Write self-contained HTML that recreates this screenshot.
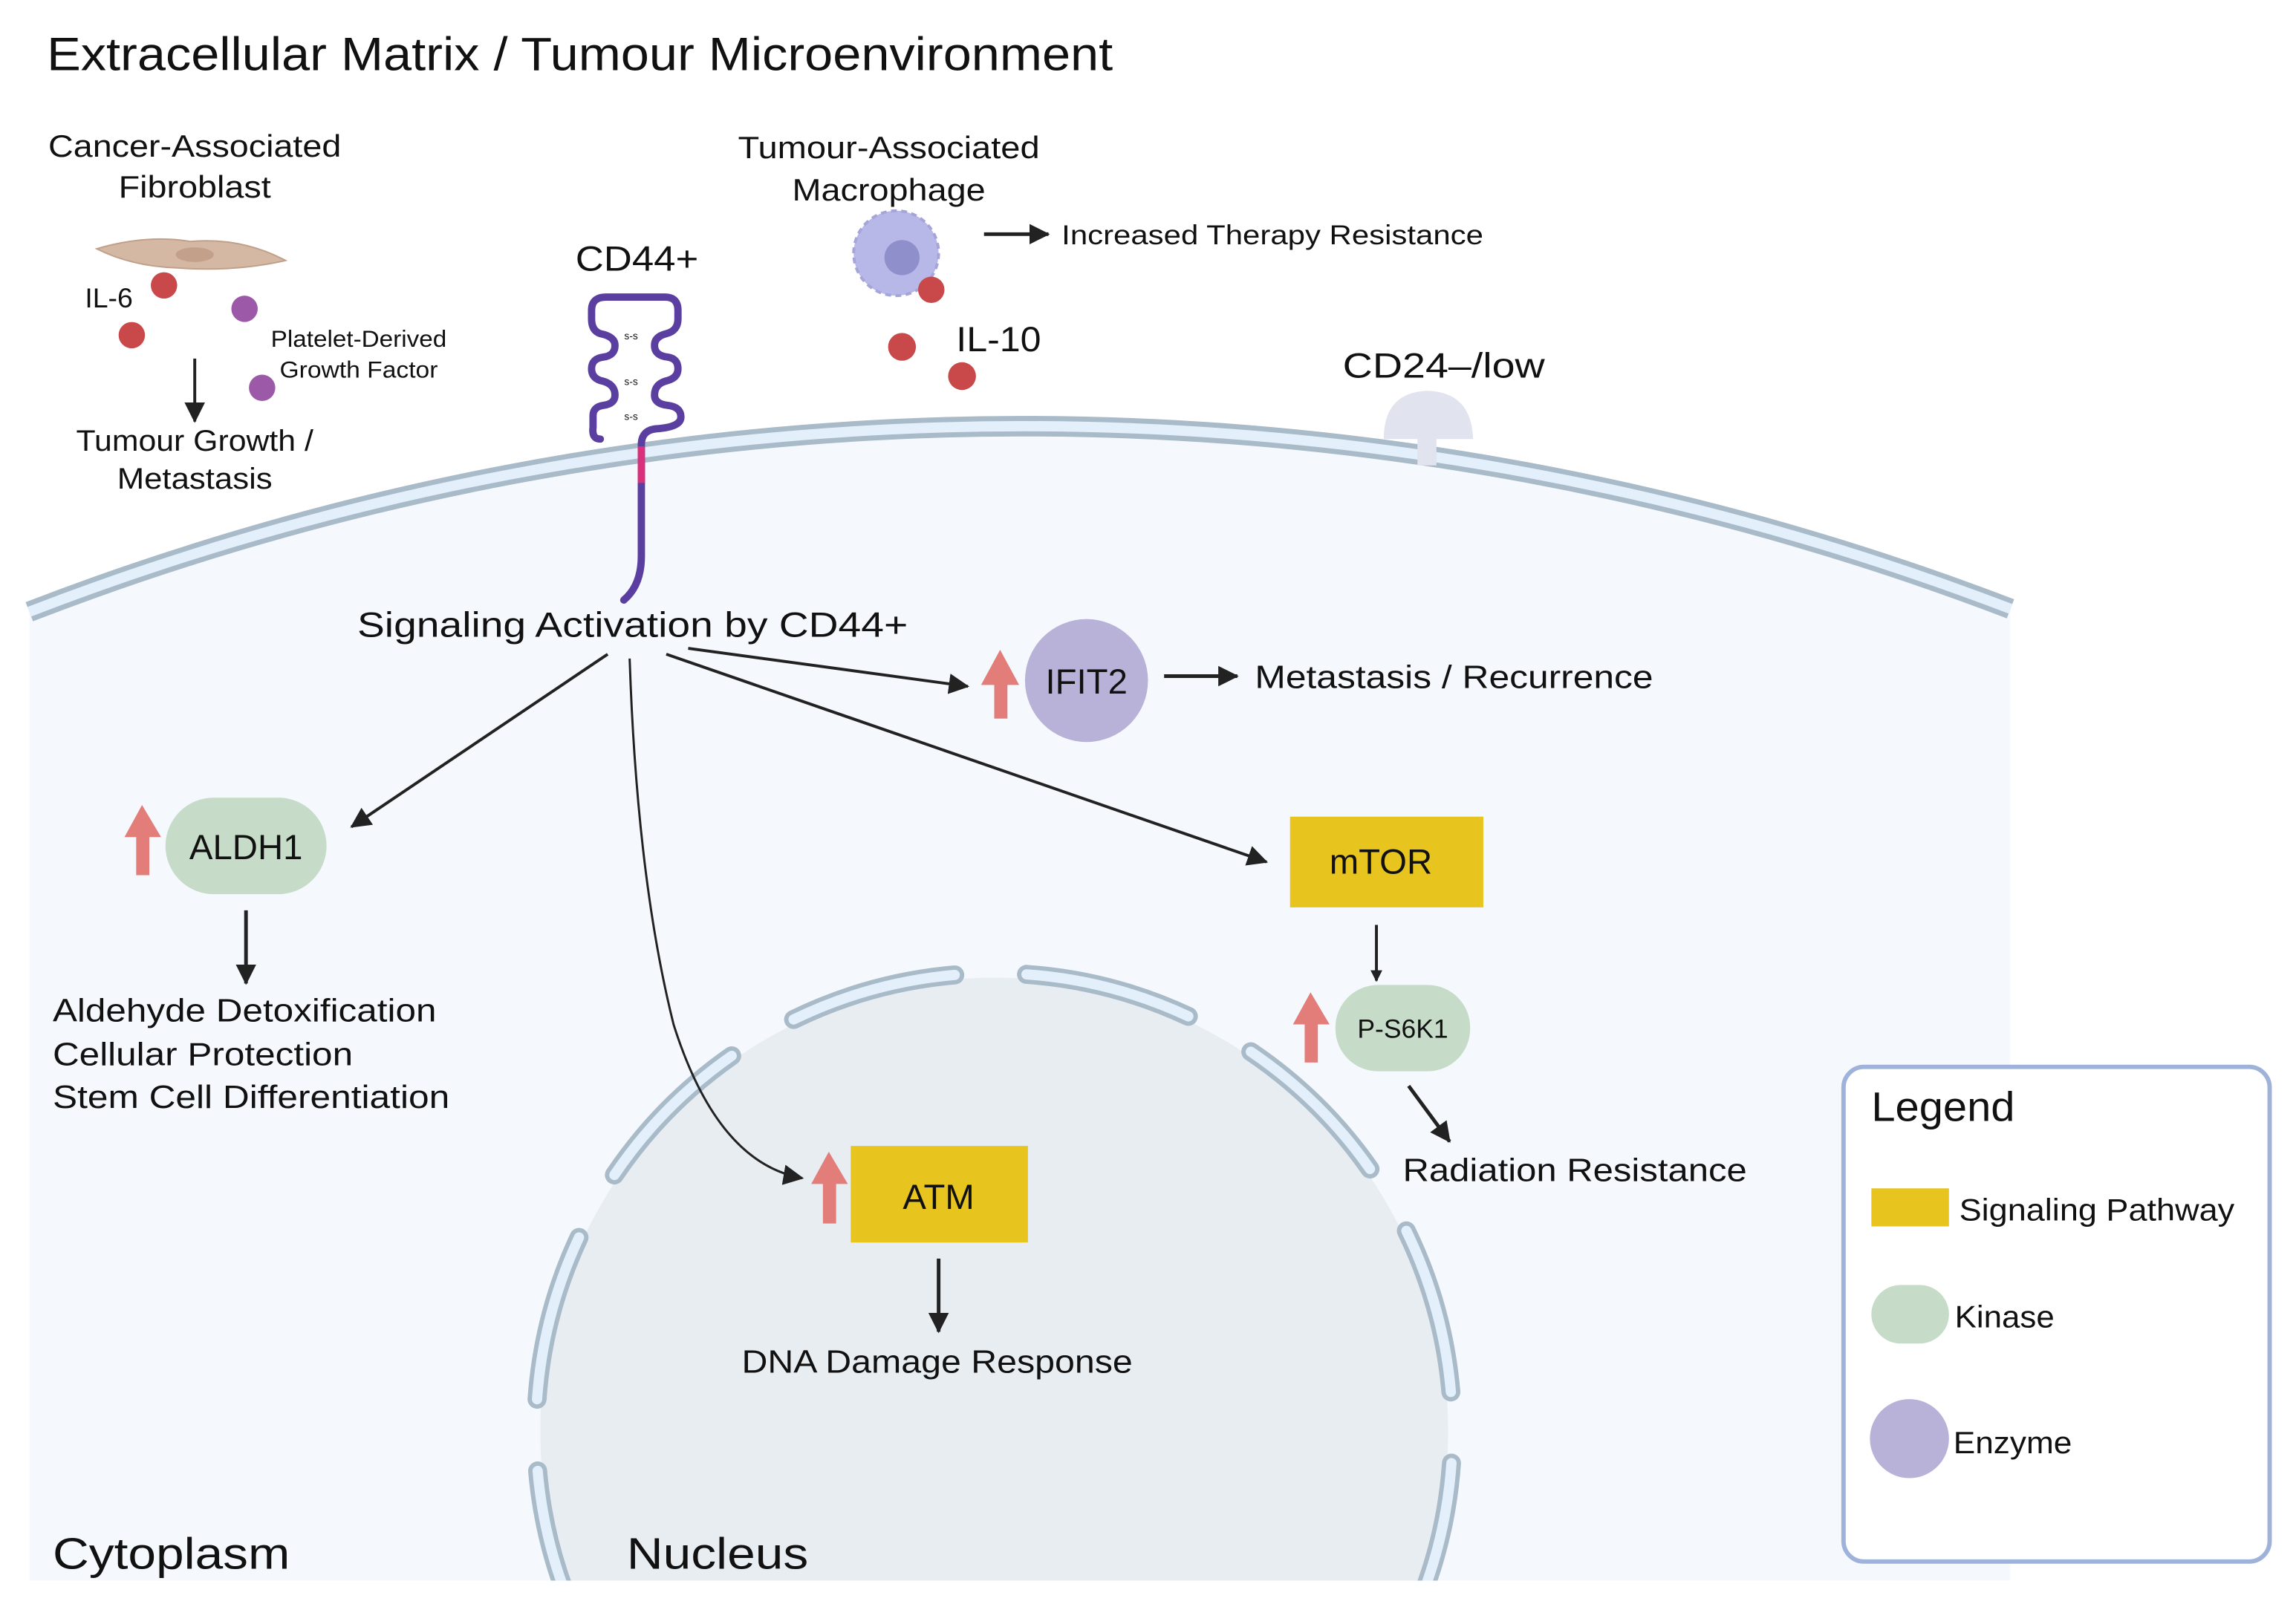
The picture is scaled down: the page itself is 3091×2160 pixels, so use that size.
<!DOCTYPE html>
<html><head><meta charset="utf-8"><style>html,body{margin:0;padding:0;background:#fff;width:3091px;height:2160px;overflow:hidden}svg{display:block}text{font-family:"Liberation Sans",sans-serif;fill:#111}</style></head>
<body>
<svg width="3091" height="2160" viewBox="0 0 1568 1096" preserveAspectRatio="none" xmlns="http://www.w3.org/2000/svg">
<defs>
<marker id="ah" markerWidth="8" markerHeight="8" refX="7" refY="4" orient="auto" markerUnits="userSpaceOnUse"><path d="M0,0 L8,4 L0,8 z" fill="#222"/></marker>
<marker id="ahb" markerWidth="14" markerHeight="14" refX="13" refY="7" orient="auto" markerUnits="userSpaceOnUse"><path d="M0,0 L14,7 L0,14 z" fill="#222"/></marker>
<clipPath id="cell"><path d="M20,418 A1882,1882 0 0 1 1373,416 L1373,1080 L20,1080 z"/></clipPath>
</defs>
<rect width="1568" height="1096" fill="#fff"/>
<text x="32" y="48" font-size="32" textLength="728" lengthAdjust="spacingAndGlyphs">Extracellular Matrix / Tumour Microenvironment</text>

<g clip-path="url(#cell)">
<rect x="20" y="280" width="1353" height="800" fill="#f5f9fd"/>
<circle cx="679" cy="978" r="310" fill="#e8edf2"/>
<circle cx="679" cy="978" r="313" fill="none" stroke="#a9bac8" stroke-width="13" stroke-dasharray="114.8 49.1" stroke-dashoffset="-21.8" stroke-linecap="round"/>
<circle cx="679" cy="978" r="313" fill="none" stroke="#e3f0fc" stroke-width="7" stroke-dasharray="114.8 49.1" stroke-dashoffset="-21.8" stroke-linecap="round"/>
</g>
<path d="M20,418 A1882,1882 0 0 1 1373,416" fill="none" stroke="#a9bac8" stroke-width="14"/>
<path d="M20,418 A1882,1882 0 0 1 1373,416" fill="none" stroke="#e3f0fc" stroke-width="7"/>

<text x="133" y="107" font-size="21" text-anchor="middle" textLength="200" lengthAdjust="spacingAndGlyphs">Cancer-Associated</text>
<text x="133" y="135" font-size="21" text-anchor="middle" textLength="104" lengthAdjust="spacingAndGlyphs">Fibroblast</text>
<path d="M66,170 Q100,160 130,165 Q165,162 195,178 Q160,186 120,183 Q90,182 66,170 z" fill="#d4b8a4" stroke="#c0a08a" stroke-width="1"/>
<ellipse cx="133" cy="174" rx="13" ry="5" fill="#c2a08a"/>
<text x="58" y="210" font-size="19">IL-6</text>
<circle cx="112" cy="195" r="9" fill="#c9484a"/>
<circle cx="90" cy="229" r="9" fill="#c9484a"/>
<circle cx="167" cy="211" r="9" fill="#9b59a8"/>
<circle cx="179" cy="265" r="9" fill="#9b59a8"/>
<text x="245" y="237" font-size="16" text-anchor="middle" textLength="120" lengthAdjust="spacingAndGlyphs">Platelet-Derived</text>
<text x="245" y="258" font-size="16" text-anchor="middle" textLength="108" lengthAdjust="spacingAndGlyphs">Growth Factor</text>
<line x1="133" y1="245" x2="133" y2="288" stroke="#222" stroke-width="2" marker-end="url(#ahb)"/>
<text x="133" y="308" font-size="20" text-anchor="middle" textLength="162" lengthAdjust="spacingAndGlyphs">Tumour Growth /</text>
<text x="133" y="334" font-size="20" text-anchor="middle" textLength="106" lengthAdjust="spacingAndGlyphs">Metastasis</text>

<text x="435" y="185" font-size="24" text-anchor="middle" textLength="84" lengthAdjust="spacingAndGlyphs">CD44+</text>
<path d="M410,300 Q404,300 405,292 L405,284 Q405,278 412,277 Q420,276 420,270 Q420,262 410,260 Q404,258 404,252 Q404,245 412,244 Q420,243 420,236 Q420,230 410,228 Q404,226 404,218 L404,212 Q404,203 414,203 L454,203 Q463,203 463,212 L463,218 Q463,226 455,228 Q447,230 447,236 Q447,243 456,244 Q463,245 463,252 Q463,258 456,260 Q447,262 447,270 Q447,276 456,277 Q465,278 465,285 Q465,292 448,293 Q438,294 438,304 L438,380 Q438,400 426,410" fill="none" stroke="#5b3fa0" stroke-width="5" stroke-linecap="round" stroke-linejoin="round"/>
<line x1="438" y1="305" x2="438" y2="330" stroke="#d8307a" stroke-width="5"/>
<text x="431" y="232" font-size="7" text-anchor="middle">s-s</text>
<text x="431" y="263" font-size="7" text-anchor="middle">s-s</text>
<text x="431" y="287" font-size="7" text-anchor="middle">s-s</text>

<text x="607" y="108" font-size="21" text-anchor="middle" textLength="206" lengthAdjust="spacingAndGlyphs">Tumour-Associated</text>
<text x="607" y="137" font-size="21" text-anchor="middle" textLength="132" lengthAdjust="spacingAndGlyphs">Macrophage</text>
<circle cx="612" cy="173" r="29" fill="#b8b8e8" stroke="#a5a5da" stroke-width="2" stroke-dasharray="4 3"/>
<circle cx="616" cy="176" r="12" fill="#8f8fcc"/>
<circle cx="636" cy="198" r="9" fill="#c9484a"/>
<line x1="672" y1="160" x2="716" y2="160" stroke="#222" stroke-width="2.5" marker-end="url(#ahb)"/>
<text x="725" y="167" font-size="19" textLength="288" lengthAdjust="spacingAndGlyphs">Increased Therapy Resistance</text>
<circle cx="616" cy="237" r="9.5" fill="#c9484a"/>
<circle cx="657" cy="257" r="9.5" fill="#c9484a"/>
<text x="653" y="240" font-size="24" textLength="58" lengthAdjust="spacingAndGlyphs">IL-10</text>

<text x="986" y="258" font-size="24" text-anchor="middle" textLength="138" lengthAdjust="spacingAndGlyphs">CD24–/low</text>
<path d="M945,300 Q945,268 975,267 Q1005,268 1006,300 z" fill="#e1e3ee"/>
<rect x="968" y="298" width="13" height="20" fill="#e1e3ee"/>

<text x="432" y="435" font-size="24" text-anchor="middle" textLength="376" lengthAdjust="spacingAndGlyphs">Signaling Activation by CD44+</text>
<line x1="415" y1="447" x2="240" y2="565" stroke="#222" stroke-width="2" marker-end="url(#ahb)"/>
<path d="M430,450 Q435,600 460,700 Q490,795 548,805" fill="none" stroke="#222" stroke-width="1.5" marker-end="url(#ahb)"/>
<line x1="455" y1="447" x2="865" y2="589" stroke="#222" stroke-width="2" marker-end="url(#ahb)"/>
<line x1="470" y1="443" x2="661" y2="469" stroke="#222" stroke-width="2" marker-end="url(#ahb)"/>

<g fill="#e27d7a"><rect x="679" y="466" width="9" height="25"/><polygon points="670,468 683,444 696,468"/></g>
<circle cx="742" cy="465" r="42" fill="#b8b2d8"/>
<text x="742" y="474" font-size="24" text-anchor="middle">IFIT2</text>
<line x1="795" y1="462" x2="845" y2="462" stroke="#222" stroke-width="2.5" marker-end="url(#ahb)"/>
<text x="857" y="470" font-size="22" textLength="272" lengthAdjust="spacingAndGlyphs">Metastasis / Recurrence</text>

<g fill="#e27d7a"><rect x="93" y="568" width="9" height="30"/><polygon points="85,572 97,550 110,572"/></g>
<rect x="113" y="545" width="110" height="66" rx="33" fill="#c6dcc8"/>
<text x="168" y="587" font-size="24" text-anchor="middle">ALDH1</text>
<line x1="168" y1="622" x2="168" y2="672" stroke="#222" stroke-width="2.5" marker-end="url(#ahb)"/>
<text x="36" y="698" font-size="22" textLength="262" lengthAdjust="spacingAndGlyphs">Aldehyde Detoxification</text>
<text x="36" y="728" font-size="22" textLength="205" lengthAdjust="spacingAndGlyphs">Cellular Protection</text>
<text x="36" y="757" font-size="22" textLength="271" lengthAdjust="spacingAndGlyphs">Stem Cell Differentiation</text>

<rect x="881" y="558" width="132" height="62" fill="#e8c41e"/>
<text x="943" y="597" font-size="24" text-anchor="middle">mTOR</text>
<line x1="940" y1="632" x2="940" y2="670" stroke="#222" stroke-width="2" marker-end="url(#ah)"/>
<g fill="#e27d7a"><rect x="891" y="698" width="9" height="28"/><polygon points="883,700 895,678 908,700"/></g>
<rect x="912" y="673" width="92" height="59" rx="29" fill="#c6dcc8"/>
<text x="958" y="709" font-size="18" text-anchor="middle">P-S6K1</text>
<line x1="962" y1="742" x2="990" y2="780" stroke="#222" stroke-width="2.5" marker-end="url(#ahb)"/>
<text x="958" y="807" font-size="22" textLength="235" lengthAdjust="spacingAndGlyphs">Radiation Resistance</text>

<g fill="#e27d7a"><rect x="562" y="807" width="9" height="29"/><polygon points="554,809 566,787 579,809"/></g>
<rect x="581" y="783" width="121" height="66" fill="#e8c41e"/>
<text x="641" y="826" font-size="24" text-anchor="middle">ATM</text>
<line x1="641" y1="860" x2="641" y2="910" stroke="#222" stroke-width="2.5" marker-end="url(#ahb)"/>
<text x="640" y="938" font-size="22" text-anchor="middle" textLength="267" lengthAdjust="spacingAndGlyphs">DNA Damage Response</text>

<text x="36" y="1072" font-size="30" textLength="162" lengthAdjust="spacingAndGlyphs">Cytoplasm</text>
<text x="428" y="1072" font-size="30" textLength="124" lengthAdjust="spacingAndGlyphs">Nucleus</text>

<rect x="1259" y="729" width="291" height="338" rx="14" fill="#fff" stroke="#9fb3da" stroke-width="3"/>
<text x="1278" y="766" font-size="28" textLength="98" lengthAdjust="spacingAndGlyphs">Legend</text>
<rect x="1278" y="812" width="53" height="26" fill="#e8c41e"/>
<text x="1338" y="834" font-size="21" textLength="188" lengthAdjust="spacingAndGlyphs">Signaling Pathway</text>
<rect x="1278" y="878" width="53" height="40" rx="20" fill="#c6dcc8"/>
<text x="1335" y="907" font-size="21" textLength="68" lengthAdjust="spacingAndGlyphs">Kinase</text>
<circle cx="1304" cy="983" r="27" fill="#b8b2d8"/>
<text x="1334" y="993" font-size="21" textLength="81" lengthAdjust="spacingAndGlyphs">Enzyme</text>
</svg>
</body></html>
